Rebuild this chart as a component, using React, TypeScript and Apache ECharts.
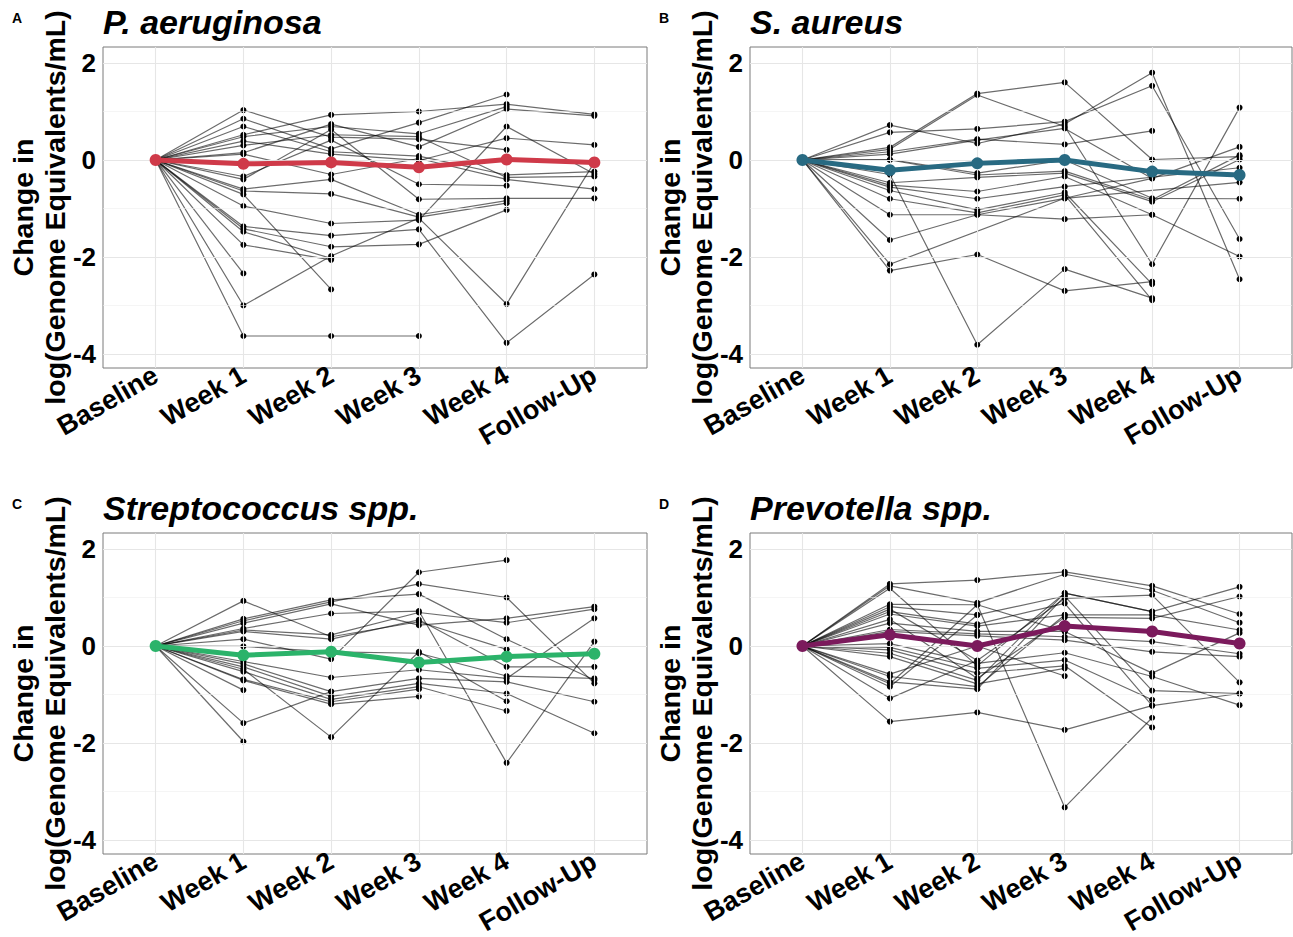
import React, { useEffect, useRef } from "react";
import * as echarts from "echarts";

const timeLabels = ["Baseline", "Week 1", "Week 2", "Week 3", "Week 4", "Follow-Up"];
const yTicks = [-4, -2, 0, 2];
const yMinorTicks = [-3, -1, 1];

const paeSubjects: (number | null)[][] = [
  [0, 1.03, 0.47, 0.43, 0.21, null],
  [0, 0.85, 0.23, 0.77, 1.35, null],
  [0, 0.69, 0.17, 0.08, -0.31, -0.24],
  [0, 0.52, 0.93, 1.0, 1.15, 0.94],
  [0, 0.48, 0.69, 0.54, 1.1, null],
  [0, 0.39, 0.12, -0.01, 0.45, 0.31],
  [0, 0.3, 0.52, 0.48, -0.36, -0.34],
  [0, 0.15, 0.74, 0.27, 1.05, 0.91],
  [0, 0.12, -0.3, 0.03, -0.4, -0.6],
  [0, -0.34, 0.41, -0.5, -0.53, null],
  [0, -0.4, 0.63, -0.81, -0.79, -0.79],
  [0, -0.6, -0.4, -1.13, -0.84, null],
  [0, -0.64, -0.7, -1.18, -0.89, null],
  [0, -0.71, -2.67, null, null, null],
  [0, -0.95, -1.31, -1.24, 0.69, -0.29],
  [0, -1.37, -1.56, -1.43, -3.77, -2.36],
  [0, -1.42, -1.79, -1.74, -1.03, null],
  [0, -1.48, -2.03, null, null, null],
  [0, -1.75, -2.06, null, null, null],
  [0, -2.34, null, null, null, null],
  [0, -3.0, -1.98, -1.2, -2.97, -0.05],
  [0, -3.63, -3.63, -3.63, null, null],
];
const paeMean = [0, -0.08, -0.05, -0.15, 0.01, -0.05];

const sauSubjects: (number | null)[][] = [
  [0, 0.26, 1.37, 1.6, 0.01, 0.07],
  [0, 0.22, 1.34, 0.69, -2.15, 1.08],
  [0, 0.72, 0.34, 0.74, 1.8, -2.46],
  [0, 0.57, 0.64, 0.79, 1.53, -1.63],
  [0, 0.17, 0.43, 0.32, 0.6, null],
  [0, 0.12, 0.41, 0.65, -0.38, 0.27],
  [0, 0.01, -0.27, 0.0, -0.79, -0.8],
  [0, 0.0, -0.31, -0.23, -0.82, 0.1],
  [0, -0.47, -0.36, -0.27, -0.86, 0.01],
  [0, -0.52, -0.65, -0.34, -1.13, -1.99],
  [0, -0.56, -0.8, -0.55, null, -0.16],
  [0, -0.63, -1.03, -0.67, -2.56, null],
  [0, -0.8, -1.09, -0.72, -2.89, null],
  [0, -1.13, -1.13, -0.79, null, -0.46],
  [0, -1.65, -1.13, -1.22, -1.13, null],
  [0, -2.28, -1.95, -2.7, -2.51, null],
  [0, -2.15, null, -0.79, -0.38, null],
  [0, -0.3, -3.81, -2.25, -2.85, null],
];
const sauMean = [0, -0.21, -0.07, 0.0, -0.24, -0.31];

const strSubjects: (number | null)[][] = [
  [0, 0.93, 0.19, 0.5, -0.07, null],
  [0, 0.56, 0.95, 1.07, 0.14, -0.7],
  [0, 0.52, 0.91, 1.28, 1.0, -0.77],
  [0, 0.47, 0.87, 0.43, 0.57, 0.81],
  [0, 0.36, 0.67, 0.72, -2.41, 0.09],
  [0, 0.33, 0.23, 0.69, 0.48, 0.76],
  [0, 0.3, 0.14, 0.54, -0.43, -0.43],
  [0, 0.14, -0.27, 1.52, 1.77, null],
  [0, -0.01, -0.12, -0.15, -0.62, -0.67],
  [0, -0.32, -0.65, -0.49, -0.67, 0.57],
  [0, -0.37, -0.94, -0.67, -0.74, -1.15],
  [0, -0.43, -1.04, -0.77, -0.98, -1.8],
  [0, -0.48, -1.88, -0.12, -1.14, null],
  [0, -0.53, -1.1, -0.84, -1.34, null],
  [0, -0.69, -1.15, -0.89, null, null],
  [0, -0.71, -1.2, -1.04, null, null],
  [0, -0.91, null, null, null, null],
  [0, -1.59, -0.94, null, null, null],
  [0, -1.97, null, null, null, null],
];
const strMean = [0, -0.19, -0.12, -0.34, -0.22, -0.16];

const preSubjects: (number | null)[][] = [
  [0, 1.28, 1.36, 1.53, 1.24, 0.66],
  [0, 1.24, 0.89, 1.48, 1.15, 0.48],
  [0, 1.19, -0.41, 1.09, 0.71, 1.22],
  [0, 0.86, 0.85, -3.33, -1.48, null],
  [0, 0.81, 0.64, 1.03, -0.92, -0.98],
  [0, 0.76, -0.3, 0.98, 1.05, -0.75],
  [0, 0.71, 0.45, 0.88, -1.23, null],
  [0, 0.66, 0.41, 0.64, 0.64, 0.33],
  [0, 0.55, -0.67, 0.59, 0.57, 1.02],
  [0, 0.47, 0.3, 0.3, -0.56, 0.27],
  [0, 0.34, 0.25, 0.19, 0.09, -0.16],
  [0, 0.3, 0.21, 0.12, -0.12, -0.22],
  [0, 0.05, -0.36, -0.14, -0.63, -1.22],
  [0, -0.03, -0.46, -0.29, -1.11, null],
  [0, -0.08, -0.56, -0.41, -1.68, null],
  [0, -0.15, -0.71, 1.09, 0.71, null],
  [0, -0.22, -0.78, -0.46, null, null],
  [0, -0.58, 0.0, -0.62, null, null],
  [0, -0.63, -0.84, 0.64, null, null],
  [0, -0.74, -0.89, 1.03, null, null],
  [0, -0.78, 0.85, 0.3, null, null],
  [0, -0.84, 0.64, null, null, null],
  [0, -1.08, -0.3, null, null, null],
  [0, -1.56, -1.37, -1.73, -1.23, -0.98],
];
const preMean = [0, 0.23, 0.0, 0.41, 0.3, 0.05];

const FONT = "'Liberation Sans', Arial, Helvetica, sans-serif";

export default function App() {
  const ref = useRef<HTMLDivElement>(null);

  useEffect(() => {
    if (!ref.current) return;
    const chart = echarts.init(ref.current, null, { renderer: "svg" });

    const panels = [
      { tag: "A", title: "P. aeruginosa", subjects: paeSubjects, mean: paeMean, color: "#CF3A49", left: 103, top: 47, width: 544 },
      { tag: "B", title: "S. aureus", subjects: sauSubjects, mean: sauMean, color: "#286A82", left: 750, top: 47, width: 542 },
      { tag: "C", title: "Streptococcus spp.", subjects: strSubjects, mean: strMean, color: "#2BB36A", left: 103, top: 533, width: 544 },
      { tag: "D", title: "Prevotella spp.", subjects: preSubjects, mean: preMean, color: "#7B1A5C", left: 750, top: 533, width: 542 },
    ];
    const plotH = 321;

    const grid: any[] = [];
    const xAxis: any[] = [];
    const yAxis: any[] = [];
    const series: any[] = [];
    const graphic: any[] = [];

    const xIdx = timeLabels.map((_, i) => i);

    panels.forEach((p, gi) => {
      grid.push({
        left: p.left,
        top: p.top,
        width: p.width,
        height: plotH,
        show: true,
        borderColor: "#7a7a7a",
        borderWidth: 1,
        backgroundColor: "transparent",
        containLabel: false,
        outerBoundsMode: "none",
      });
      xAxis.push({
        type: "value",
        gridIndex: gi,
        min: -0.6,
        max: 5.6,
        axisLine: { show: false },
        splitLine: { show: false },
        axisTick: { show: true, customValues: xIdx, length: 4, lineStyle: { color: "#333", width: 1 } },
        axisLabel: {
          customValues: xIdx,
          formatter: (v: number) => timeLabels[Math.round(v)] ?? "",
          rotate: 30,
          fontSize: 27,
          fontWeight: "bold",
          fontFamily: FONT,
          color: "#000",
          margin: 5,
        },
      });
      yAxis.push({
        type: "value",
        gridIndex: gi,
        min: -4.29,
        max: 2.33,
        axisLine: { show: false },
        splitLine: { show: false },
        axisTick: { show: true, customValues: yTicks, length: 4, lineStyle: { color: "#333", width: 1 } },
        axisLabel: {
          customValues: yTicks,
          formatter: (v: number) => String(v),
          fontSize: 26,
          fontWeight: "bold",
          fontFamily: FONT,
          color: "#000",
          margin: 7,
        },
      });

      // background grid lines
      series.push({
        type: "line",
        xAxisIndex: gi,
        yAxisIndex: gi,
        data: [],
        z: 1,
        silent: true,
        markLine: {
          silent: true,
          symbol: "none",
          label: { show: false },
          animation: false,
          data: [
            ...yMinorTicks.map((v) => ({ yAxis: v, lineStyle: { color: "#efefef", width: 0.6, type: "solid" } })),
            ...yTicks.map((v) => ({ yAxis: v, lineStyle: { color: "#e6e6e6", width: 1.1, type: "solid" } })),
            ...xIdx.map((v) => ({ xAxis: v, lineStyle: { color: "#e6e6e6", width: 1.1, type: "solid" } })),
          ],
        },
      });

      p.subjects.forEach((s) => {
        series.push({
          type: "line",
          xAxisIndex: gi,
          yAxisIndex: gi,
          data: s.map((v, i) => [i, v === null ? "-" : v]),
          connectNulls: true,
          symbol: "circle",
          symbolSize: 6,
          showSymbol: true,
          itemStyle: { color: "#000" },
          lineStyle: { color: "rgba(0,0,0,0.58)", width: 1.2 },
          z: 2,
          silent: true,
        });
      });

      series.push({
        type: "line",
        xAxisIndex: gi,
        yAxisIndex: gi,
        data: p.mean.map((v, i) => [i, v]),
        symbol: "circle",
        symbolSize: 12,
        itemStyle: { color: p.color },
        lineStyle: { color: p.color, width: 5 },
        z: 5,
        silent: true,
      });

      graphic.push({
        type: "text",
        left: p.left - 91,
        top: p.top - 36,
        style: { text: p.tag, fontSize: 14, fontWeight: "bold", fontFamily: FONT, fill: "#000" },
      });
      graphic.push({
        type: "text",
        x: p.left,
        y: p.top - 25,
        style: {
          text: p.title,
          fontSize: 34,
          fontWeight: "bold",
          fontStyle: "italic",
          fontFamily: FONT,
          fill: "#000",
          align: "left",
          verticalAlign: "middle",
        },
      });
      graphic.push({
        type: "text",
        x: p.left - 64,
        y: p.top + plotH / 2,
        rotation: Math.PI / 2,
        style: {
          text: "Change in\nlog(Genome Equivalents/mL)",
          fontSize: 28.5,
          fontWeight: "bold",
          fontFamily: FONT,
          fill: "#000",
          align: "center",
          verticalAlign: "middle",
          lineHeight: 32,
        },
      });
    });

    chart.setOption({
      animation: false,
      backgroundColor: "#fff",
      grid,
      xAxis,
      yAxis,
      series,
      graphic,
    });

    return () => chart.dispose();
  }, []);

  return (
    <div
      ref={ref}
      style={{ position: "fixed", left: 0, top: 0, width: 1293, height: 937, background: "#fff" }}
    />
  );
}
